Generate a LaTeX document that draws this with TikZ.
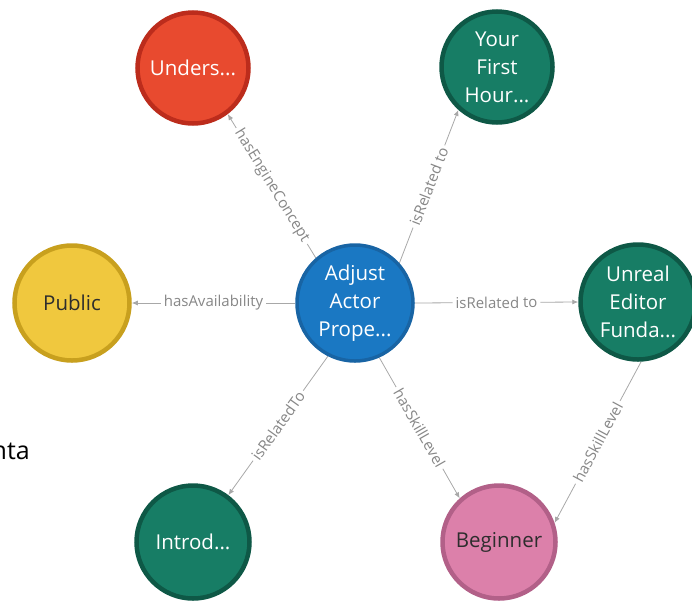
\documentclass[tikz,border=0pt]{standalone}
\usepackage{fontspec}
\setmainfont{Open Sans}
\usetikzlibrary{arrows.meta}
\pgfdeclarelayer{bg}
\pgfsetlayers{bg,main}
\definecolor{redfill}{RGB}{232,74,47}
\definecolor{redline}{RGB}{188,44,28}
\definecolor{greenfill}{RGB}{23,125,101}
\definecolor{greenline}{RGB}{14,88,70}
\definecolor{yellowfill}{RGB}{240,200,62}
\definecolor{yellowline}{RGB}{200,160,30}
\definecolor{bluefill}{RGB}{26,120,195}
\definecolor{blueline}{RGB}{24,100,164}
\definecolor{pinkfill}{RGB}{220,128,170}
\definecolor{pinkline}{RGB}{178,96,136}
\definecolor{edgegray}{RGB}{168,168,168}
\definecolor{labelgray}{RGB}{135,135,135}
\definecolor{darktext}{RGB}{45,45,45}

\begin{document}
\begin{tikzpicture}[x=1pt, y=-1pt,
  topic/.style={circle, draw, line width=4.5pt, minimum size=113pt, inner sep=0pt,
    align=center, text=white, font=\fontsize{20.5}{28}\selectfont},
  rel/.style={draw=edgegray, line width=0.8pt, -{Latex[length=6pt,width=5pt]}},
  lbl/.style={fill=white, text=labelgray, font=\fontsize{15}{18}\selectfont,
    sloped, inner sep=3pt}]
  \useasboundingbox (0,0) rectangle (692,600);

  \node (und) [topic, fill=redfill, draw=redline, minimum size=111pt] at (193,68) {Unders...};
  \node (your) [topic, fill=greenfill, draw=greenline, minimum size=111pt] at (497,67) {Your\\First\\Hour...};

  \node (pub) [topic, fill=yellowfill, draw=yellowline, text=darktext, minimum size=115pt] at (72,303) {Public};
  \node (adj) [topic, fill=bluefill, draw=blueline, line width=3.5pt, minimum size=116pt] at (355,303) {Adjust\\Actor\\Prope...};
  \node (ued) [topic, fill=greenfill, draw=greenline, minimum size=115pt] at (638,302) {Unreal\\Editor\\Funda...};

  \node (intro) [topic, fill=greenfill, draw=greenline] at (193,542) {Introd...};
  \node (beg) [topic, fill=pinkfill, draw=pinkline, text=darktext] at (499,542) {Beginner};

  \node (nta) [anchor=base east, inner sep=0pt, font=\fontsize{25}{30}\selectfont] at (30,459) {nta};

  \begin{pgfonlayer}{bg}
    \draw[rel] (adj.131) -- node[lbl] {hasEngineConcept} (und.-53);
    \draw[rel] (adj.42) -- node[lbl] {isRelated to} (your.-132);
    \draw[rel] (adj.180) -- node[lbl] {hasAvailability} (pub.0);
    \draw[rel] (adj.0) -- node[lbl] {isRelated to} (ued.180);
    \draw[rel] (adj.-117) -- node[lbl] {isRelatedTo} (intro.53);
    \draw[rel] (adj.-66) -- node[lbl] {hasSkillLevel} (beg.132);
    \draw[rel] (ued.-87) -- node[lbl] {hasSkillLevel} (beg.19);
  \end{pgfonlayer}
\end{tikzpicture}
\end{document}
